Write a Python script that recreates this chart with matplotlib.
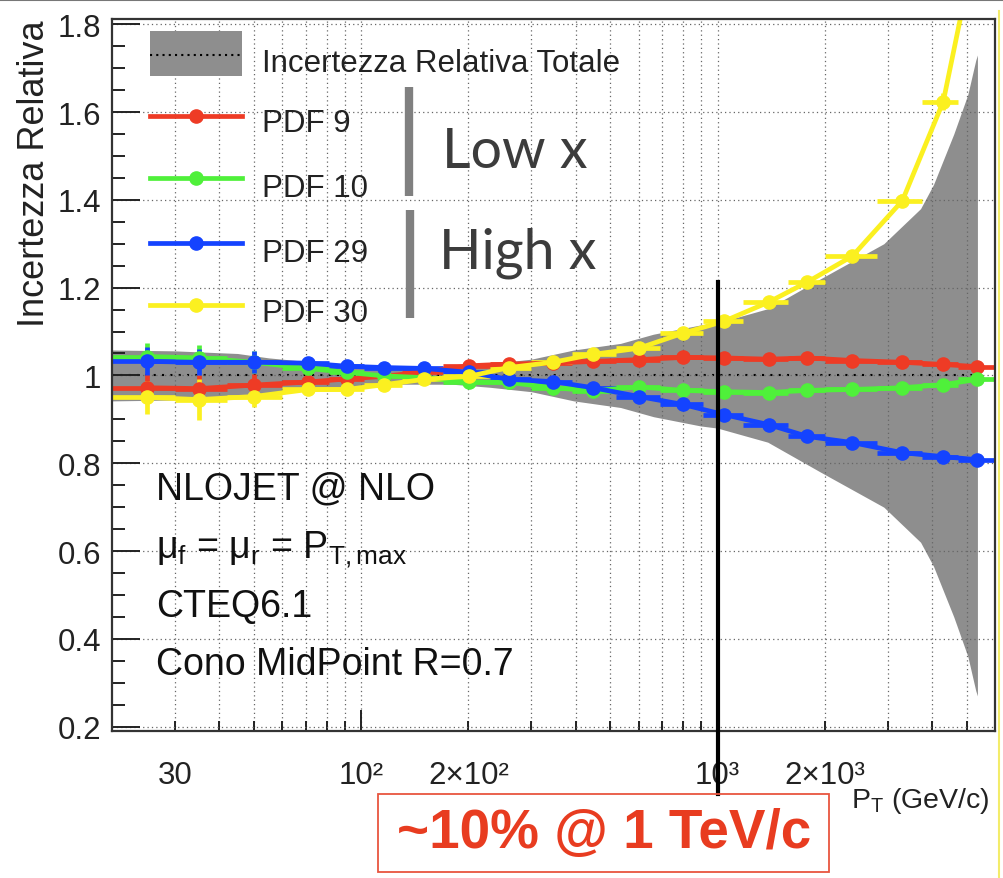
import numpy as np
import matplotlib
matplotlib.use("Agg")
import matplotlib.pyplot as plt
import matplotlib.transforms as mtrans
from matplotlib.lines import Line2D
from matplotlib.patches import Rectangle
from matplotlib.ticker import FixedLocator, FixedFormatter, MultipleLocator, FuncFormatter

# ---------------- data ----------------
pt_centers = [25, 35, 50, 71, 91, 116, 150, 201, 260, 345, 447, 601, 798,
              1039, 1390, 1787, 2389, 3298, 4296, 5349]
pt_edges = [20, 30, 42, 60, 81, 102, 130, 170, 230, 300, 390, 520, 690, 910,
            1180, 1580, 2000, 2800, 3750, 4730, 6000]

pdf9 = [0.972, 0.970, 0.978, 0.985, 0.992, 0.998, 1.008, 1.022, 1.026, 1.028,
        1.032, 1.036, 1.041, 1.040, 1.037, 1.040, 1.034, 1.030, 1.025, 1.020]
pdf10 = [1.043, 1.040, 1.030, 1.016, 1.007, 0.999, 0.995, 0.985, 0.984, 0.972,
         0.965, 0.974, 0.966, 0.963, 0.961, 0.966, 0.968, 0.972, 0.979, 0.991]
pdf29 = [1.032, 1.030, 1.030, 1.028, 1.021, 1.018, 1.016, 1.007, 0.991, 0.986,
         0.972, 0.952, 0.934, 0.911, 0.888, 0.861, 0.847, 0.824, 0.815, 0.808]
pdf30 = [0.950, 0.945, 0.952, 0.968, 0.968, 0.979, 0.991, 0.998, 1.018, 1.030,
         1.048, 1.062, 1.096, 1.123, 1.167, 1.213, 1.272, 1.398, 1.624, 2.000]

stat_err = [0.032, 0.030, 0.025, 0.010, 0.008, 0.006, 0.005, 0.004, 0.004, 0.004,
            0.004, 0.004, 0.004, 0.004, 0.005, 0.005, 0.006, 0.008, 0.010, 0.012]
stat_err_pdf30 = [0.038, 0.046, 0.025, 0.012, 0.010, 0.008, 0.006, 0.005, 0.005, 0.005,
                  0.005, 0.005, 0.006, 0.007, 0.008, 0.010, 0.012, 0.015, 0.020, 0.030]

band_pt = [20, 30, 45, 55, 70, 95, 130, 180, 230, 300, 395, 534, 661, 895, 1000,
           1382, 1942, 2925, 3710, 4034, 4597, 5034, 5298, 5356]
band_err = [0.058, 0.056, 0.050, 0.040, 0.032, 0.025, 0.020, 0.020, 0.027, 0.037,
            0.058, 0.073, 0.094, 0.115, 0.120, 0.152, 0.220, 0.300, 0.380, 0.435,
            0.550, 0.640, 0.718, 0.730]
band_center = 1.0

series_labels = ["PDF 9", "PDF 10", "PDF 29", "PDF 30"]
band_label = "Incertezza Relativa Totale"
x_major = [100, 1000]
x_major_labels = ["10²", "10³"]
x_minor = [30, 40, 50, 60, 70, 80, 90, 200, 300, 400, 500, 600, 700, 800, 900,
           2000, 3000, 4000, 5000]
x_minor_labels = {30: "30", 200: "2×10²", 2000: "2×10³"}
info_lines = ["NLOJET @ NLO", r"$\mu_{f}$ = $\mu_{r}$ = P$_{T,max}$", "CTEQ6.1",
              "Cono MidPoint R=0.7"]

# ---------------- style ----------------
W, H = 1004, 879
plt.rcParams["font.family"] = ["Liberation Sans", "DejaVu Sans"]
plt.rcParams["mathtext.fontset"] = "custom"
plt.rcParams["mathtext.rm"] = "Liberation Sans"
plt.rcParams["mathtext.it"] = "Liberation Sans"
plt.rcParams["mathtext.bf"] = "Liberation Sans:bold"

c_red = "#ee3b25"
c_green = "#4ff03a"
c_blue = "#1443ff"
c_yellow = "#fbf020"
c_band = "#8e8e8e"
colors = [c_red, c_green, c_blue, c_yellow]

def fx(px):
    return px / W

def fy(py):
    return 1 - py / H

fig = plt.figure(figsize=(W / 100, H / 100), dpi=100)
ax = fig.add_axes([fx(112), fy(732), fx(995) - fx(112), fy(20) - fy(732)])
ax.set_xscale("log")
ax.set_xlim(20, 6000)
ax.set_ylim(0.19, 1.812)

# band
lo = [band_center - e for e in band_err]
hi = [band_center + e for e in band_err]
ax.fill_between(band_pt, lo, hi, color=c_band, lw=0, zorder=1)
ax.plot([band_pt[0], band_pt[-1]], [band_center, band_center], color="black",
        ls=(0, (1, 3)), lw=1.5, zorder=1.5)

# series
pc = np.array(pt_centers, dtype=float)
edges = np.array(pt_edges, dtype=float)
xerr = [pc - edges[:-1], edges[1:] - pc]
errs = [stat_err, stat_err, stat_err, stat_err_pdf30]
for vals, col, err in zip([pdf9, pdf10, pdf29, pdf30], colors, errs):
    ax.errorbar(pc, vals, xerr=xerr, yerr=err, fmt="-o", color=col, lw=3.4,
                ms=9.5, elinewidth=3.4, capsize=0, zorder=4)

# axes styling
ax.set_axisbelow(False)
ax.xaxis.set_major_locator(FixedLocator(x_major))
ax.xaxis.set_major_formatter(FixedFormatter(x_major_labels))
ax.xaxis.set_minor_locator(FixedLocator(x_minor))
ax.xaxis.set_minor_formatter(FixedFormatter([x_minor_labels.get(v, "") for v in x_minor]))
ax.yaxis.set_major_locator(MultipleLocator(0.2))
ax.yaxis.set_minor_locator(MultipleLocator(0.05))
ax.yaxis.set_major_formatter(FuncFormatter(lambda v, p: ("%.1f" % v).rstrip("0").rstrip(".")))

ax.tick_params(axis="both", which="both", direction="in", top=False, right=False,
               colors="#222222", labelcolor="#222222", width=1.4)
ax.tick_params(axis="y", which="major", length=20, labelsize=22.5, pad=8)
ax.tick_params(axis="y", which="minor", length=9)
ax.tick_params(axis="x", which="major", length=15, labelsize=22.5, pad=21)
ax.tick_params(axis="x", which="minor", length=7, labelsize=22.5, pad=21)

grid_style = dict(ls=(0, (1, 2.5)), color="#666666", lw=0.9)
ax.grid(True, which="both", axis="x", **grid_style)
ax.grid(True, which="major", axis="y", **grid_style)
for s in ax.spines.values():
    s.set_linewidth(1.6)
    s.set_color("#333333")
    s.set_zorder(5)

# y label
fig.text(fx(35), fy(20), "Incertezza Relativa", rotation=90, ha="center", va="top",
         fontsize=26, color="#222222")
# x label
fig.text(fx(990), fy(801), r"P$_{T}$ (GeV/c)", ha="right", va="center",
         fontsize=20.5, color="#222222")

# info text
for txt, base in zip(info_lines, [499, 558, 617, 675]):
    fig.text(fx(156), fy(base), txt, ha="left", va="baseline", fontsize=27,
             color="#111111")

# legend (manual)
fig.add_artist(Rectangle((fx(150), fy(77)), fx(242) - fx(150), fy(32) - fy(77),
                         transform=fig.transFigure, facecolor=c_band, edgecolor="none",
                         zorder=6))
fig.add_artist(Line2D([fx(150), fx(242)], [fy(56), fy(56)], color="black",
                      ls=(0, (1, 2)), lw=1.5, zorder=7))
fig.text(fx(262), fy(72), band_label, ha="left", va="baseline", fontsize=22.5,
         color="#222222", zorder=7)
for lab, col, ly, base in zip(series_labels, colors, [117, 179, 244, 306],
                              [132, 197, 262, 322]):
    fig.add_artist(Line2D([fx(150), fx(242)], [fy(ly), fy(ly)], color=col, lw=3.4,
                          zorder=7))
    fig.add_artist(Line2D([fx(196)], [fy(ly)], color=col, marker="o", ms=9.5,
                          zorder=7))
    fig.text(fx(262), fy(base), lab, ha="left", va="baseline", fontsize=22.5,
             color="#222222", zorder=7)

# Low x / High x annotations
fig.add_artist(Line2D([fx(409), fx(409)], [fy(88), fy(197)], color="#808080",
                      lw=6, solid_capstyle="butt", zorder=7))
fig.add_artist(Line2D([fx(410), fx(410)], [fy(211), fy(319)], color="#808080",
                      lw=6, solid_capstyle="butt", zorder=7))
fig.text(fx(442), fy(168), "Low x", ha="left", va="baseline", fontsize=40,
         family=["Lato", "DejaVu Sans"], color="#3c3c3c", zorder=7)
fig.text(fx(439), fy(269), "High x", ha="left", va="baseline", fontsize=40,
         family=["Lato", "DejaVu Sans"], color="#3c3c3c", zorder=7)

# vertical marker at 1 TeV
blend = mtrans.blended_transform_factory(ax.transData, fig.transFigure)
ax.add_artist(Line2D([1000, 1000], [fy(283), fy(795)], transform=blend,
                     color="black", lw=3, clip_on=False, zorder=8))

# red box annotation
fig.add_artist(Rectangle((fx(378), fy(873)), fx(829) - fx(378), fy(795) - fy(873),
                         transform=fig.transFigure, fill=False, edgecolor="#e8553f",
                         lw=1.3, zorder=8))
fig.text(fx(604), fy(834), "~10% @ 1 TeV/c", ha="center", va="center",
         fontsize=39.5, fontweight="bold", color="#e83c20", zorder=9)

# slide edges
fig.add_artist(Line2D([0, 1], [fy(1), fy(1)], color="#777777", lw=1.5))
fig.add_artist(Line2D([fx(999), fx(999)], [0, fy(12)], color="#f3ec6a", lw=1.5))

fig.savefig("out.png", dpi=100)
